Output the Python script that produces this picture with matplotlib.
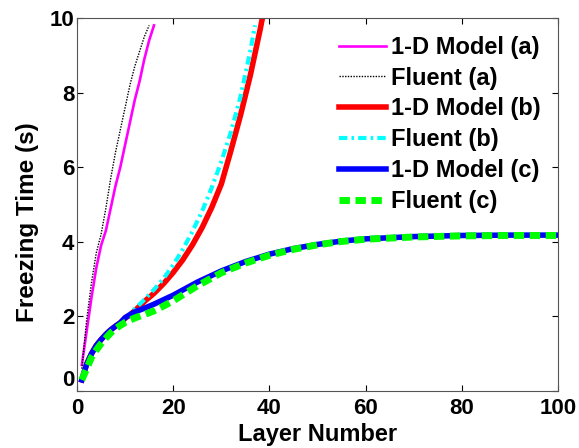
import matplotlib
matplotlib.use('Agg')
import matplotlib.pyplot as plt

plt.rcParams['font.family'] = ['Liberation Sans', 'DejaVu Sans']
plt.rcParams['font.weight'] = 'bold'

# 1-D Model (a) / Fluent (a)
xa_model = [1, 2, 3, 4, 5, 6, 7, 8, 9, 10, 11, 12, 13, 14, 15, 16]
ya_model = [0.7, 1.6, 2.5, 3.3, 3.9, 4.3, 4.9, 5.5, 6.0, 6.6, 7.2, 7.8, 8.3, 8.9, 9.4, 9.8]
xa_fluent = [1, 2, 3, 4, 5, 6, 7, 8, 9, 10, 11, 12, 13, 14, 15]
ya_fluent = [0.6, 1.9, 2.9, 3.7, 4.2, 4.9, 5.7, 6.4, 7.0, 7.6, 8.2, 8.7, 9.1, 9.5, 9.8]

# 1-D Model (b) / Fluent (b)
xb_model = [1, 2, 3, 4, 5, 6, 7, 8, 9, 10, 12, 14, 16, 18, 20, 22, 24, 26, 28, 30, 32, 34, 36, 38, 39]
yb_model = [0.3, 0.72, 1.0, 1.22, 1.38, 1.52, 1.64, 1.74, 1.83, 1.95, 2.15, 2.4, 2.62, 2.88, 3.18,
            3.52, 3.92, 4.38, 4.92, 5.55, 6.45, 7.4, 8.45, 9.65, 10.3]
xb_fluent = [1, 2, 3, 4, 5, 6, 7, 8, 9, 10, 12, 14, 16, 18, 20, 22, 24, 26, 28, 30, 32, 34, 36, 37]
yb_fluent = [0.3, 0.72, 1.0, 1.22, 1.38, 1.52, 1.64, 1.74, 1.83, 1.95, 2.2, 2.45, 2.72, 3.02, 3.38,
             3.8, 4.28, 4.82, 5.45, 6.15, 6.95, 7.9, 9.1, 9.8]

# 1-D Model (c) / Fluent (c)
xc = [1, 2, 3, 4, 5, 6, 7, 8, 9, 10, 12, 14, 16, 18, 20, 25, 30, 35, 40, 45, 50, 55, 60, 70, 80, 90, 100]
yc_model = [0.3, 0.72, 1.0, 1.22, 1.38, 1.52, 1.64, 1.74, 1.83, 1.97, 2.12, 2.22, 2.33, 2.45, 2.57,
            2.92, 3.22, 3.47, 3.67, 3.82, 3.93, 4.02, 4.08, 4.14, 4.17, 4.18, 4.18]
yc_fluent = [0.3, 0.6, 0.9, 1.1, 1.27, 1.42, 1.56, 1.67, 1.76, 1.84, 1.96, 2.05, 2.15, 2.28, 2.42,
             2.82, 3.17, 3.43, 3.64, 3.8, 3.92, 4.01, 4.07, 4.13, 4.16, 4.17, 4.17]

fig = plt.figure(figsize=(5.79, 4.48), dpi=100)
ax = fig.add_axes([0.133, 0.127, 0.831, 0.833])

ax.plot(xa_model, ya_model, color='#ff00ff', lw=1.9, label='1-D Model (a)')
ax.plot(xa_fluent, ya_fluent, color='black', lw=1.0, ls=(0, (1, 1)), label='Fluent (a)')
ax.plot(xb_model, yb_model, color='red', lw=4, label='1-D Model (b)')
ax.plot(xb_fluent, yb_fluent, color='cyan', lw=3, dashes=(2, 1, 0.6, 1), label='Fluent (b)')
ax.plot(xc, yc_model, color='#0000ff', lw=4, label='1-D Model (c)')
ax.plot(xc, yc_fluent, color='#00ff00', lw=5, dashes=(1.5, 0.8), label='Fluent (c)')

ax.set_xlim(0, 100)
ax.set_ylim(0, 10)
ax.set_xticks([0, 20, 40, 60, 80, 100])
ax.set_yticks([0, 2, 4, 6, 8, 10])
ax.tick_params(direction='in', top=True, right=True, labelsize=16, length=4, width=0.8)
ax.tick_params(axis='x', pad=5)
ax.tick_params(axis='y', pad=2)
# the y "0" sits above the axis line, as in MATLAB
ax.get_yticklabels()[0].set_verticalalignment('bottom')
for s in ax.spines.values():
    s.set_color('#555555')
    s.set_linewidth(0.8)

ax.set_xlabel('Layer Number', fontsize=17, fontweight='bold', labelpad=3)
ax.set_ylabel('Freezing Time (s)', fontsize=17.5, fontweight='bold')
ax.yaxis.set_label_coords(-0.079, 0.452)

ax.legend(loc='upper left', bbox_to_anchor=(0.545, 0.952), frameon=False, fontsize=17,
          handlelength=2.0, handletextpad=0.2, labelspacing=0.33, borderpad=0, borderaxespad=0)

fig.savefig('out.png', dpi=100)
